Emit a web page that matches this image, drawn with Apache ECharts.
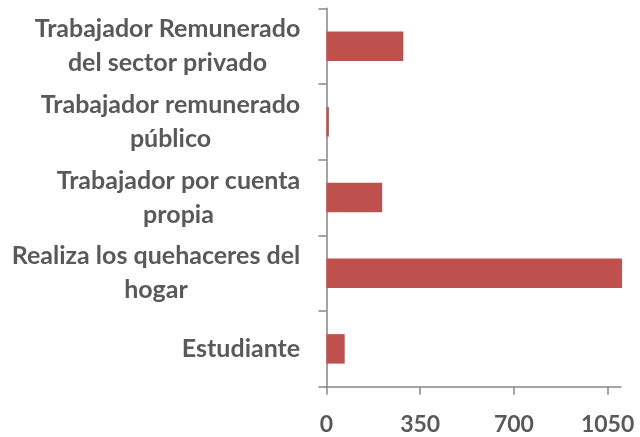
<!DOCTYPE html>
<html><head><meta charset="utf-8">
<script src="https://cdn.jsdelivr.net/npm/echarts@6/dist/echarts.min.js"></script>
<style>html,body{margin:0;padding:0;background:#fff}#c{width:640px;height:437px}</style>
</head><body><div id="c"></div>
<script>
const categories = [
  "Trabajador Remunerado\ndel sector privado",
  "Trabajador remunerado\npúblico",
  "Trabajador por cuenta\npropia",
  "Realiza los quehaceres del\nhogar",
  "Estudiante"
];
const values = [287, 9, 208, 1104, 68];
const xTicks = [0, 350, 700, 1050];

const FONT_FAMILY = 'Lato';
const CAT_SIZE = 25;
const ctx = document.createElement('canvas').getContext('2d');
ctx.font = 'bold ' + CAT_SIZE + 'px ' + FONT_FAMILY;
const rich = {};
categories.forEach((c, i) => {
  const w = Math.max(...c.split('\n').map(l => ctx.measureText(l).width));
  rich['c' + i] = { width: Math.ceil(w), align: 'center', fontFamily: FONT_FAMILY, fontSize: CAT_SIZE, fontWeight: 'bold', color: '#595959', lineHeight: 34 };
});

const chart = echarts.init(document.getElementById('c'));
chart.setOption({
  animation: false,
  grid: { left: 326.5, right: 19, top: 8.3, bottom: 50.3 },
  xAxis: {
    type: 'value', min: 0, max: 1100,
    splitLine: { show: false },
    axisLine: { show: true, lineStyle: { color: '#868686', width: 1.5 } },
    axisTick: { show: true, length: 8, lineStyle: { color: '#868686', width: 1.5 }, customValues: xTicks },
    axisLabel: { customValues: xTicks, margin: 26, formatter: v => String(v), fontFamily: FONT_FAMILY, fontSize: 23, fontWeight: 'bold', color: '#595959' }
  },
  yAxis: {
    type: 'category', inverse: true, data: categories,
    axisLine: { show: true, lineStyle: { color: '#868686', width: 1.5 } },
    axisTick: { show: true, alignWithLabel: false, length: 8, lineStyle: { color: '#868686', width: 1.5 } },
    axisLabel: {
      margin: 26,
      formatter: (v, idx) => v.split('\n').map(l => '{c' + idx + '|' + l + '}').join('\n'),
      rich: rich
    }
  },
  series: [{
    type: 'bar', data: values, barWidth: 29.5, clip: false,
    itemStyle: { color: '#C0504D' }
  }]
});
</script></body></html>
